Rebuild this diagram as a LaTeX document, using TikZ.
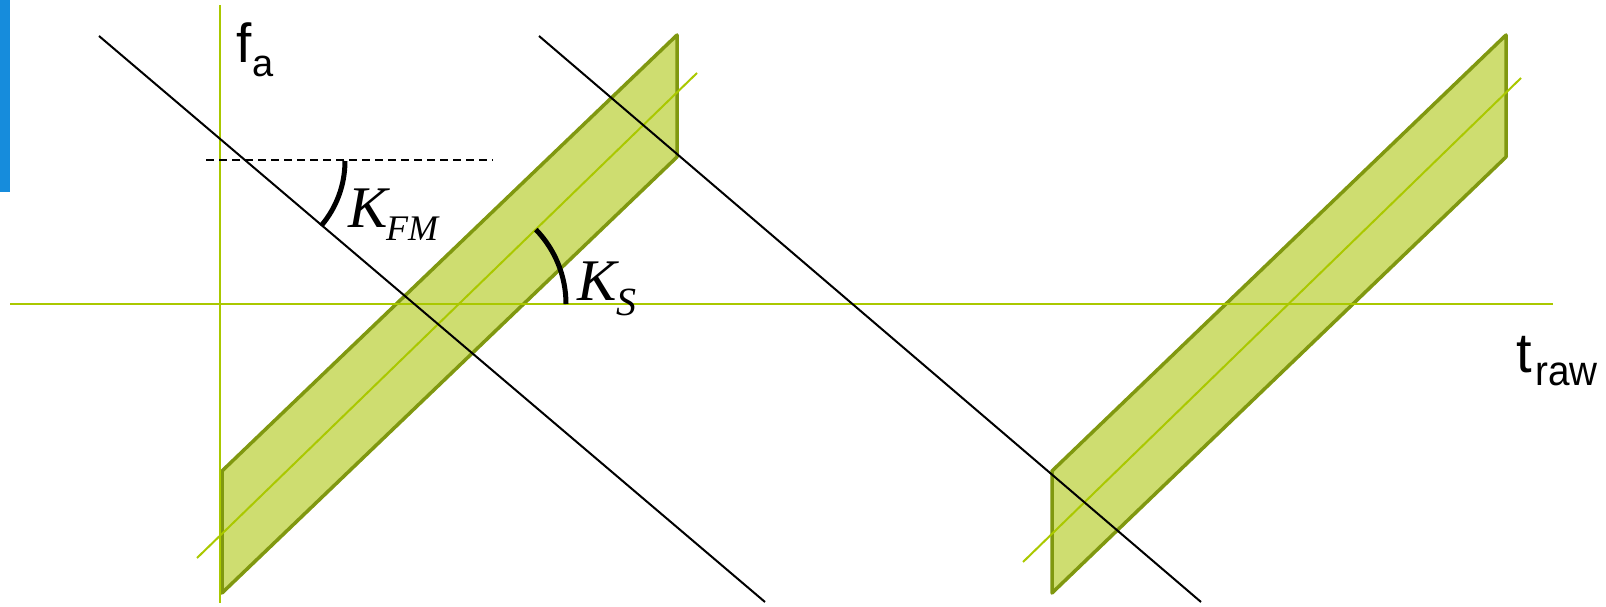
\documentclass[tikz,border=0pt]{standalone}
\usepackage{fontspec}
\setmainfont{Liberation Sans}
\newfontfamily\kserif{Liberation Serif}
\definecolor{axisgreen}{RGB}{170,200,0}
\definecolor{bandfill}{RGB}{206,221,112}
\definecolor{bandedge}{RGB}{128,152,16}
\definecolor{barblue}{RGB}{22,140,220}
\begin{document}
\begin{tikzpicture}[x=1pt,y=-1pt,
  axis/.style={draw=axisgreen,line width=2pt},
  band/.style={fill=bandfill,draw=bandedge,line width=3.5pt,line join=round},
  midline/.style={draw=axisgreen,line width=2pt},
  slant/.style={draw=black,line width=2pt},
  angarc/.style={draw=black,line width=5pt},
  lbl/.style={inner sep=0pt,anchor=base west}]
\useasboundingbox (0,0) rectangle (1606,607);
% blue bar
\fill[barblue] (0,0) rectangle (10,192);
% coordinates
\coordinate (vt) at (220,5);
\coordinate (vb) at (220,603);
\coordinate (hl) at (10,304);
\coordinate (hr) at (1553,304);
\coordinate (p1a) at (677,35);
\coordinate (p1b) at (677,157);
\coordinate (p1c) at (222,593);
\coordinate (p1d) at (222,471);
\coordinate (p2a) at (1506,35);
\coordinate (p2b) at (1506,157);
\coordinate (p2c) at (1052,593);
\coordinate (p2d) at (1052,471);
\coordinate (m1s) at (197,558);
\coordinate (m1e) at (697,73);
\coordinate (m2s) at (1023,562);
\coordinate (m2e) at (1521,78);
\coordinate (b1s) at (99,36);
\coordinate (b1e) at (765,602);
\coordinate (b2s) at (539,36);
\coordinate (b2e) at (1201,602);
\coordinate (ds) at (206,160);
\coordinate (de) at (493,160);
\coordinate (arcA) at (345,161);
\coordinate (arcB) at (566,304);
% bands
\draw[band] (p1a) -- (p1b) -- (p1c) -- (p1d) -- cycle;
\draw[band] (p2a) -- (p2b) -- (p2c) -- (p2d) -- cycle;
% axes
\draw[axis] (vt) -- (vb);
\draw[axis] (hl) -- (hr);
% mid lines
\draw[midline] (m1s) -- (m1e);
\draw[midline] (m2s) -- (m2e);
% slanted black lines
\draw[slant] (b1s) -- (b1e);
\draw[slant] (b2s) -- (b2e);
% dashed reference
\draw[black,line width=1.5pt,dash pattern=on 8pt off 5pt] (ds) -- (de);
% angle arcs
\draw[angarc] (arcA) arc[start angle=0,end angle=-40.4,radius=100pt];
\draw[angarc] (arcB) arc[start angle=0,end angle=44.1,radius=107pt];
% labels
\node[lbl] (f) at (236,63) {\fontsize{55}{60}\selectfont f};
\node[lbl] (fa) at (252,77) {\fontsize{38}{42}\selectfont a};
\node[lbl] (t) at (1516,372) {\fontsize{56}{60}\selectfont t};
\node[lbl] (raw) at (1535,385) {\fontsize{42}{46}\selectfont\scalebox{0.92}[1]{raw}};
\node[lbl] (K1) at (348,227) {\kserif\itshape\fontsize{59}{64}\selectfont K};
\node[lbl] (FM) at (386,240) {\kserif\itshape\fontsize{36}{40}\selectfont FM};
\node[lbl] (K2) at (577,300) {\kserif\itshape\fontsize{59}{64}\selectfont K};
\node[lbl] (S) at (616,315) {\kserif\itshape\fontsize{40}{44}\selectfont S};
\end{tikzpicture}
\end{document}
